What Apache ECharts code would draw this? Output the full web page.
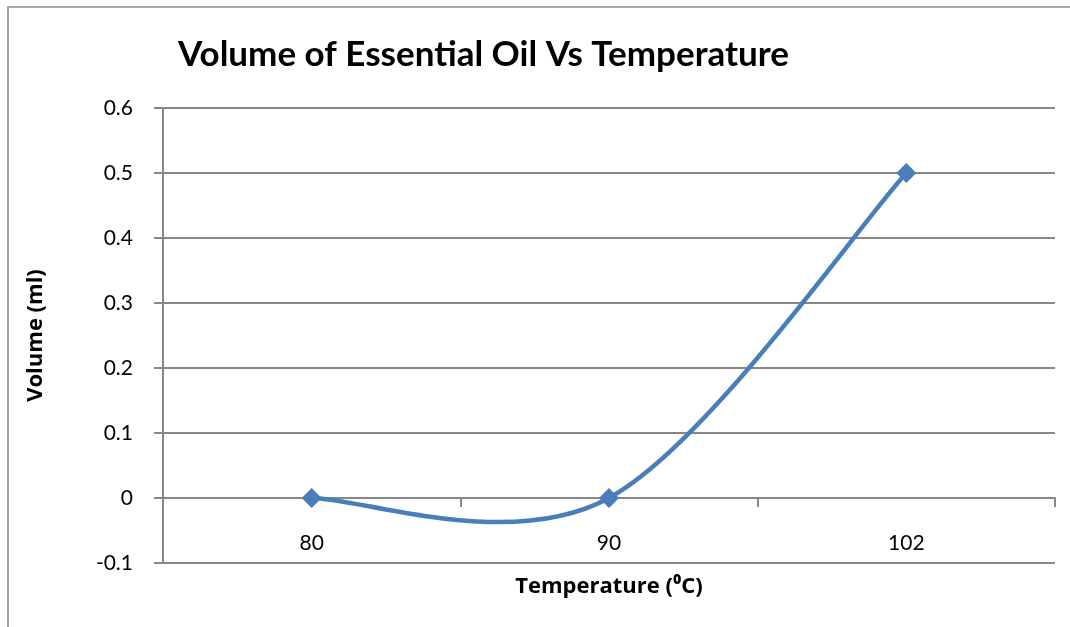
<!DOCTYPE html>
<html>
<head>
<meta charset="utf-8">
<script src="https://cdn.jsdelivr.net/npm/echarts@6/dist/echarts.min.js"></script>
<style>
  html, body { margin: 0; padding: 0; background: #fff; overflow: hidden; }
  #frame { position: absolute; left: 7px; top: 6px; width: 1200px; height: 800px;
           border: 2px solid #a6a6a6; box-sizing: border-box; }
  #chart { position: absolute; left: 0; top: 0; width: 1070px; height: 627px; }
</style>
</head>
<body>
<div id="frame"></div>
<div id="chart"></div>
<script>
// Temperature categories (°C) and collected oil volumes (ml)
const temperatures = ['80', '90', '102'];
const volumes = [0, 0, 0.5];
const yTicks = { min: -0.1, max: 0.6, step: 0.1 };

const TITLE_FONT = 'Lato, "Liberation Sans", sans-serif';
const AXIS_NAME_FONT = '"Open Sans", "DejaVu Sans", sans-serif';
const gridGray = '#878787';
const lineBlue = '#4a7ebb';

// Spline through the data points: cubic Bezier segments whose control points
// follow the neighbouring points (tension 1/6), computed in screen space.
function renderSpline(params, api) {
  if (params.dataIndex !== 0) return null;
  const pts = volumes.map((v, i) => api.coord([i, v]));
  const n = pts.length;
  const k = 1 / 6;
  const children = [];
  for (let i = 0; i < n - 1; i++) {
    const p0 = pts[Math.max(i - 1, 0)];
    const p1 = pts[i];
    const p2 = pts[i + 1];
    const p3 = pts[Math.min(i + 2, n - 1)];
    children.push({
      type: 'bezierCurve',
      shape: {
        x1: p1[0], y1: p1[1],
        cpx1: p1[0] + (p2[0] - p0[0]) * k, cpy1: p1[1] + (p2[1] - p0[1]) * k,
        cpx2: p2[0] - (p3[0] - p1[0]) * k, cpy2: p2[1] - (p3[1] - p1[1]) * k,
        x2: p2[0], y2: p2[1]
      },
      style: { stroke: lineBlue, lineWidth: 4.5, fill: null, lineCap: 'round' }
    });
  }
  return { type: 'group', children };
}

const chart = echarts.init(document.getElementById('chart'));
chart.setOption({
  animation: false,
  title: {
    text: 'Volume of Essential Oil Vs Temperature',
    left: 173, top: 32,
    textStyle: { fontFamily: TITLE_FONT, fontWeight: 'bold', fontSize: 35, color: '#000' }
  },
  grid: { left: 163, right: 15, top: 108, bottom: 64, containLabel: false, outerBoundsMode: 'none' },
  xAxis: {
    type: 'category',
    data: temperatures,
    boundaryGap: true,
    axisLine: { onZero: true, lineStyle: { color: gridGray, width: 2 } },
    axisTick: { show: true, length: 9, inside: false, lineStyle: { color: gridGray, width: 2 } },
    axisLabel: { margin: -30, fontFamily: TITLE_FONT, fontSize: 21, color: '#000' },
    name: 'Temperature (\u2070C)',
    nameLocation: 'middle',
    nameGap: 13,
    nameTextStyle: { fontFamily: AXIS_NAME_FONT, fontWeight: 'bold', fontSize: 22, color: '#000' }
  },
  yAxis: {
    type: 'value',
    min: yTicks.min, max: yTicks.max, interval: yTicks.step,
    axisLine: { show: true, lineStyle: { color: gridGray, width: 2 } },
    axisTick: { show: true, length: 9, lineStyle: { color: gridGray, width: 2 } },
    splitLine: { show: true, lineStyle: { color: gridGray, width: 2 } },
    axisLabel: {
      margin: 30, fontFamily: TITLE_FONT, fontSize: 21, color: '#000',
      formatter: v => String(Math.round(v * 10) / 10)
    },
    name: 'Volume (ml)',
    nameLocation: 'middle',
    nameGap: 116,
    nameRotate: 90,
    nameTextStyle: { fontFamily: AXIS_NAME_FONT, fontWeight: 'bold', fontSize: 22, color: '#000' }
  },
  series: [
    {
      type: 'custom',
      renderItem: renderSpline,
      data: volumes.map((v, i) => [i, v]),
      encode: { x: 0, y: 1 },
      z: 2
    },
    {
      type: 'scatter',
      data: volumes,
      symbol: 'diamond',
      symbolSize: 20,
      itemStyle: { color: lineBlue, opacity: 1 },
      z: 3
    }
  ]
});
</script>
</body>
</html>
